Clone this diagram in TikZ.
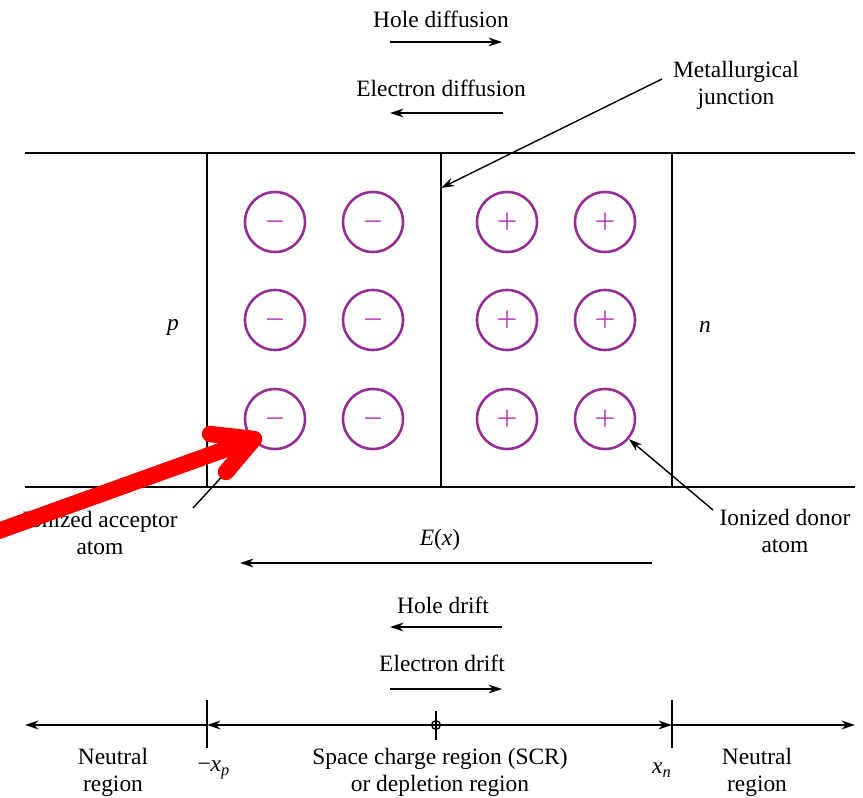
\documentclass[tikz,border=0pt]{standalone}
\usepackage{fontspec}
\setmainfont{Liberation Serif}
\usetikzlibrary{positioning,arrows.meta}
\definecolor{ioncol}{RGB}{150,45,150}
\definecolor{signcol}{RGB}{185,45,185}

\begin{document}
\begin{tikzpicture}[%
    x=0.015cm,
    y=-0.015cm,
    >={Stealth[length=2mm,width=1.3mm]},
    line width=0.6pt,
    ion/.style={%
      circle,
      minimum size=0.9cm,
      inner sep=0pt,
      draw=ioncol,
      line width=1.1pt,
      text=signcol,
      font=\boldmath
    },
    caption/.style={%
      align=center,
      inner sep=1pt,
      font=\fontsize{10}{11.5}\selectfont
    },
    redmark/.style={%
      red,
      line width=7pt,
      line cap=round,
      line join=round
    }
  ]
    \useasboundingbox (0,0) rectangle (863,798);

    % crystal and depletion region
    \draw (25,153) -- (855,153);
    \draw (25,487) -- (855,487);
    \draw (207,153) -- (207,487);
    \draw (441,153) -- (441,487);
    \draw (672,153) -- (672,487);

    % ionized atoms
    \node[ion] (m1) at (275,222) {$-$};
    \node[ion] (m2) at (373,222) {$-$};
    \node[ion] (m3) at (275,320) {$-$};
    \node[ion] (m4) at (373,320) {$-$};
    \node[ion] (m5) at (275,419) {$-$};
    \node[ion] (m6) at (373,419) {$-$};
    \node[ion] (p1) at (507,222) {$+$};
    \node[ion] (p2) at (605,222) {$+$};
    \node[ion] (p3) at (507,320) {$+$};
    \node[ion] (p4) at (605,320) {$+$};
    \node[ion] (p5) at (507,419) {$+$};
    \node[ion] (p6) at (605,419) {$+$};

    \node[caption] (pside) at (173,327) {\textit{p}};
    \node[caption] (nside) at (705,327) {\textit{n}};

    % diffusion
    \node[caption] (holediff) at (441,19) {Hole diffusion};
    \coordinate (hd1) at (390,42);
    \coordinate (hd2) at (502,42);
    \node[caption] (elecdiff) at (441,88) {Electron diffusion};
    \coordinate (ed1) at (503,113);
    \coordinate (ed2) at (390,113);

    \node[caption] (metjunc) at (736,85) {Metallurgical\\junction};
    \coordinate (mjtail) at (662,79);
    \coordinate (mjtip) at (441,188);

    \node[caption] (acclabel) at (100,533) {Ionized acceptor\\atom};
    \coordinate (acctail) at (193,508);
    \node[caption] (donlabel) at (785,531) {Ionized donor\\atom};
    \coordinate (dontail) at (713,510);

    % drift
    \node[caption] (efield) at (440,540) {\textit{E}(\textit{x})};
    \coordinate (ef1) at (652,563);
    \coordinate (ef2) at (240,563);
    \node[caption] (holedrift) at (443,605) {Hole drift};
    \coordinate (hr1) at (502,627);
    \coordinate (hr2) at (390,627);
    \node[caption] (elecdrift) at (442,663) {Electron drift};
    \coordinate (er1) at (390,689);
    \coordinate (er2) at (502,689);

    \path[->] (hd1) edge (hd2)
              (ed1) edge (ed2)
              (mjtail) edge (mjtip)
              (acctail) edge (m5)
              (dontail) edge (p6)
              (ef1) edge (ef2)
              (hr1) edge (hr2)
              (er1) edge (er2);

    % position axis
    \coordinate (axl) at (25,725);
    \coordinate (xpt) at (207,725);
    \coordinate (xnt) at (672,725);
    \coordinate (axr) at (855,725);
    \draw[->] (xpt) -- (axl);
    \draw[<->] (xpt) -- (xnt);
    \draw[->] (xnt) -- (axr);
    \draw (207,700) -- (207,748);
    \draw (672,700) -- (672,748);
    \node[circle, draw, inner sep=0pt, minimum size=0.13cm] (origin) at (436,725) {};
    \draw (436,711) -- (436,740);

    \node[caption] (neutl) at (113,772) {Neutral\\region};
    \node[caption] (xplabel) at (214,770) {−\textit{x}\textsubscript{\textit{p}}};
    \node[caption] (scr) at (440,772) {Space charge region (SCR)\\or depletion region};
    \node[caption] (xnlabel) at (662,770) {\textit{x}\textsubscript{\textit{n}}};
    \node[caption] (neutr) at (757,772) {Neutral\\region};

    % red pointer
    \coordinate (rtail) at (-10,534);
    \coordinate (rtip) at (254,439);
    \draw[redmark] (rtail) -- (rtip);
    \draw[redmark] (210,434) -- (rtip) -- (226,472);
\end{tikzpicture}
\end{document}
